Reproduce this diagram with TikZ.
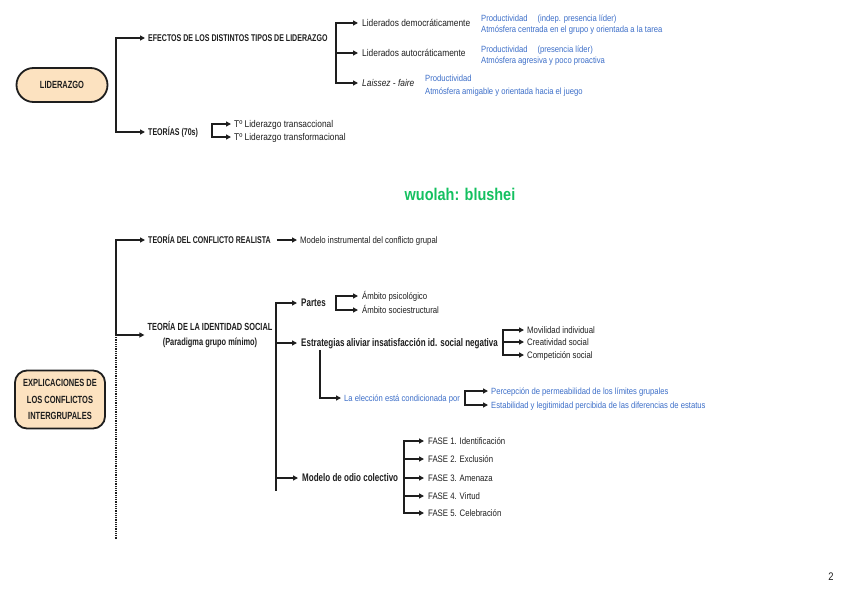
\documentclass[tikz,border=0pt]{standalone}
\usepackage{fontspec}
\setmainfont{Liberation Sans}[FakeStretch=0.855]
\newfontfamily\headfont{Liberation Sans}[FakeStretch=0.72]
\newfontfamily\headfontb{Liberation Sans}[FakeStretch=0.73]
\newfontfamily\smallfont{Liberation Sans}[FakeStretch=0.83]
\newfontfamily\bluefont{Liberation Sans}[FakeStretch=0.85]
\newfontfamily\wmfont{Liberation Sans}[FakeStretch=0.85]
\usetikzlibrary{arrows.meta}
\definecolor{peach}{RGB}{252,226,192}
\definecolor{txtblue}{RGB}{60,110,200}
\definecolor{wgreen}{RGB}{20,192,96}
\definecolor{ink}{RGB}{30,30,30}
\begin{document}
\begin{tikzpicture}[x=1pt,y=-1pt,
  conn/.style={line width=1.7pt,draw=ink},
  arr/.style={conn,-{Triangle[length=5pt,width=5pt]}},
  arrb/.style={conn,{Triangle[length=5pt,width=5pt]}-{Triangle[length=5pt,width=5pt]}},
  spine/.style={conn,line cap=rect},
  base/.style={anchor=west,inner sep=0pt,text height=0.75em,text depth=0.1em,text=ink},
  head/.style={base,font=\headfont\bfseries\fontsize{9.8}{11}\selectfont},
  head2/.style={base,font=\headfontb\bfseries\fontsize{11}{13}\selectfont},
  txt/.style={base,font=\fontsize{9.8}{11}\selectfont},
  txts/.style={base,font=\smallfont\fontsize{9.4}{11}\selectfont},
  blue/.style={base,font=\bluefont\fontsize{9}{10}\selectfont,text=txtblue},
  pill/.style={draw=ink,line width=1.8pt,fill=peach,align=center,inner sep=0pt,
    font=\headfont\bfseries\fontsize{10.4}{16.5}\selectfont,text=ink}
]
\useasboundingbox (0,0) rectangle (848,600);

% ---------------- LIDERAZGO ----------------
\node[pill,rounded corners=17pt,minimum width=91pt,minimum height=34pt] (lid) at (62,85) {LIDERAZGO};
\node[head] (efectos) at (148,38) {EFECTOS DE LOS DISTINTOS TIPOS DE LIDERAZGO};
\node[head] (teorias) at (148,132) {TEORÍAS (70s)};

\node[txt] (dem) at (362,23) {Liderados democráticamente};
\node[txt] (aut) at (362,53) {Liderados autocráticamente};
\node[txt] (lf) at (362,83) {\itshape Laissez - faire};

\node[blue] (p1) at (481,18) {Productividad\hspace{10pt}(indep. presencia líder)};
\node[blue] (a1) at (481,29) {Atmósfera centrada en el grupo y orientada a la tarea};
\node[blue] (p2) at (481,49) {Productividad\hspace{10pt}(presencia líder)};
\node[blue] (a2) at (481,60) {Atmósfera agresiva y poco proactiva};
\node[blue] (p3) at (425,78) {Productividad};
\node[blue] (a3) at (425,91) {Atmósfera amigable y orientada hacia el juego};

\node[txt] (tt1) at (234,124) {Tº Liderazgo transaccional};
\node[txt] (tt2) at (234,137) {Tº Liderazgo transformacional};

\coordinate (sp1) at (116,85);
\coordinate (sp2) at (336,53);
\coordinate (sp2b) at (212,130);
\draw[arrb] ([xshift=-3pt]efectos.west) -| (sp1) |- ([xshift=-3pt]teorias.west);
\draw[arrb] ([xshift=-4pt]dem.west) -| (sp2) |- ([xshift=-4pt]lf.west);
\draw[arr] (sp2 |- aut.west) -- ([xshift=-4pt]aut.west);
\draw[arrb] ([xshift=-3pt]tt1.west) -| (sp2b) |- ([xshift=-3pt]tt2.west);

% ---------------- watermark ----------------
\node[inner sep=0pt,font=\wmfont\bfseries\fontsize{17}{20}\selectfont,text=wgreen] (wm) at (460,194) {wuolah: blushei};

% ---------------- CONFLICTOS ----------------
\node[pill,rounded corners=12pt,minimum width=90pt,minimum height=58pt] (expl) at (60,399.5) {EXPLICACIONES DE\\LOS CONFLICTOS\\INTERGRUPALES};

\node[head] (tcr) at (148,240) {TEORÍA DEL CONFLICTO REALISTA};
\node[txts] (modi) at (300,240) {Modelo instrumental del conflicto grupal};
\draw[arr] ([xshift=6pt]tcr.east) -- ([xshift=-3pt]modi.west);

\node[inner sep=0pt,align=center,text=ink,font=\headfont\bfseries\fontsize{10.3}{15}\selectfont] (tis) at (210,335) {TEORÍA DE LA IDENTIDAD SOCIAL\\(Paradigma grupo mínimo)};

\coordinate (sp3) at (116,290);
\coordinate (sp3end) at (116,540);
\draw[arrb] ([xshift=-3pt]tcr.west) -| (sp3) |- ([xshift=-3pt]tis.west);
\draw[ink,line width=1.2pt,dash pattern=on 1pt off 0.8pt] (sp3 |- tis.west) -- (sp3end);

\node[head2] (partes) at (301,303) {Partes};
\node[head2] (estr) at (301,343) {Estrategias aliviar insatisfacción id. social negativa};
\node[head2] (odio) at (302,478) {Modelo de odio colectivo};

\coordinate (sp4) at (276,400);
\coordinate (sp4end) at (276,490);
\draw[spine] (sp4 |- partes.west) -- (sp4end);
\draw[arr] (sp4 |- partes.west) -- ([xshift=-4pt]partes.west);
\draw[arr] (sp4 |- estr.west) -- ([xshift=-4pt]estr.west);
\draw[arr] (sp4 |- odio.west) -- ([xshift=-4pt]odio.west);

\node[txts] (ap) at (362,296) {Ámbito psicológico};
\node[txts] (as) at (362,310) {Ámbito sociestructural};
\coordinate (sp5) at (336,303);
\draw[arrb] ([xshift=-4pt]ap.west) -| (sp5) |- ([xshift=-4pt]as.west);

\node[txts] (mov) at (527,330) {Movilidad individual};
\node[txts] (cre) at (527,342) {Creatividad social};
\node[txts] (com) at (527,355) {Competición social};
\coordinate (sp6) at (503,342);
\draw[arrb] ([xshift=-3pt]mov.west) -| (sp6) |- ([xshift=-3pt]com.west);
\draw[arr] (sp6 |- cre.west) -- ([xshift=-3pt]cre.west);

\node[blue] (ele) at (344,398) {La elección está condicionada por};
\coordinate (sp7) at (320,350);
\draw[arr] (sp7) |- ([xshift=-3pt]ele.west);

\node[blue] (perc) at (491,391) {Percepción de permeabilidad de los límites grupales};
\node[blue] (esta) at (491,405) {Estabilidad y legitimidad percibida de las diferencias de estatus};
\coordinate (sp8) at (465,398);
\draw[arrb] ([xshift=-3pt]perc.west) -| (sp8) |- ([xshift=-3pt]esta.west);

\node[txts] (f1) at (428,441) {FASE 1. Identificación};
\node[txts] (f2) at (428,459) {FASE 2. Exclusión};
\node[txts] (f3) at (428,478) {FASE 3. Amenaza};
\node[txts] (f4) at (428,496) {FASE 4. Virtud};
\node[txts] (f5) at (428,513) {FASE 5. Celebración};
\coordinate (sp9) at (404,478);
\draw[arrb] ([xshift=-4pt]f1.west) -| (sp9) |- ([xshift=-4pt]f5.west);
\draw[arr] (sp9 |- f2.west) -- ([xshift=-4pt]f2.west);
\draw[arr] (sp9 |- f3.west) -- ([xshift=-4pt]f3.west);
\draw[arr] (sp9 |- f4.west) -- ([xshift=-4pt]f4.west);

% page number
\node[inner sep=0pt,font=\fontsize{11}{13}\selectfont,text=ink] (pg) at (831,577) {2};
\end{tikzpicture}
\end{document}
